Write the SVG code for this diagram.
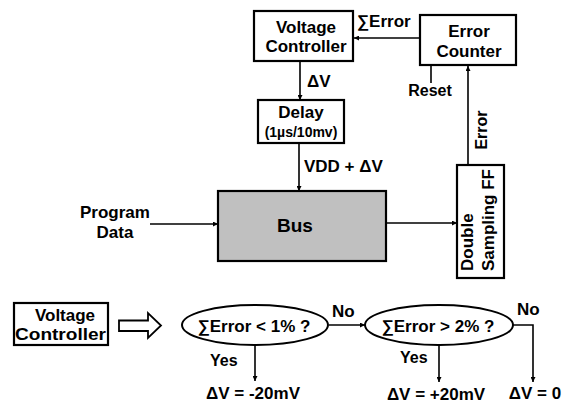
<svg xmlns="http://www.w3.org/2000/svg" width="569" height="407" viewBox="0 0 569 407">
<defs>
<marker id="ah" viewBox="0 0 10 10" refX="10" refY="5" markerWidth="5" markerHeight="5" markerUnits="userSpaceOnUse" orient="auto">
<path d="M0,0 L10,5 L0,10 Z" fill="#000"/>
</marker>
<style>
text{font-family:"Liberation Sans",Arial,sans-serif;font-weight:bold;fill:#000;font-size:17px}
.box{fill:#fff;stroke:#000;stroke-width:2.2}
.c{fill:none;stroke:#000;stroke-width:1.6}
.a{marker-end:url(#ah)}
.m{text-anchor:middle}
</style>
</defs>
<rect width="569" height="407" fill="#fff"/>
<g id="connectors">
<line class="c a" x1="420" y1="38" x2="354" y2="38"/>
<line class="c a" x1="300" y1="62" x2="300" y2="100"/>
<line class="c a" x1="299" y1="144" x2="299" y2="191"/>
<line class="c a" x1="150" y1="224" x2="218" y2="224"/>
<line class="c a" x1="387" y1="223" x2="457" y2="223"/>
<line class="c a" x1="468" y1="165" x2="468" y2="66"/>
<line class="c" x1="431" y1="66" x2="431" y2="83"/>
<line class="c a" x1="255" y1="345" x2="255" y2="381"/>
<line class="c a" x1="329" y1="325" x2="365" y2="325"/>
<line class="c a" x1="439" y1="345" x2="439" y2="382"/>
<polyline class="c a" points="513,325 533,325 533,382"/>
<text x="357" y="27">∑Error</text>
<text x="307" y="87">ΔV</text>
<text x="304" y="172">VDD + ΔV</text>
<text class="m" x="430" y="96" style="font-size:16px">Reset</text>
<text class="m" transform="translate(487,130) rotate(-90)" style="font-size:16px">Error</text>
<text x="332" y="317">No</text>
<text x="517" y="315">No</text>
<text x="210" y="366" style="font-size:16px">Yes</text>
<text x="400" y="363" style="font-size:16px">Yes</text>
</g>
<g id="voltage-controller">
<rect class="box" x="254" y="11" width="99" height="50"/>
<text class="m" x="306" y="33">Voltage</text>
<text class="m" x="306" y="52">Controller</text>
</g>
<g id="error-counter">
<rect class="box" x="420" y="15" width="96" height="50"/>
<text class="m" x="469" y="37">Error</text>
<text class="m" x="469" y="57">Counter</text>
</g>
<g id="delay">
<rect class="box" x="258" y="100" width="86" height="43"/>
<text class="m" x="301" y="118">Delay</text>
<text class="m" x="301" y="137" style="font-size:14px">(1µs/10mv)</text>
</g>
<g id="program-data">
<text class="m" x="115" y="218">Program</text>
<text class="m" x="115" y="238">Data</text>
</g>
<g id="bus">
<rect x="218" y="191" width="168" height="70" fill="#c0c0c0" stroke="#000" stroke-width="2.2"/>
<text class="m" x="295" y="232" style="font-size:19px">Bus</text>
</g>
<g id="double-sampling-ff">
<rect class="box" x="457" y="165" width="47" height="113"/>
<text transform="translate(473,271) rotate(-90)">Double</text>
<text transform="translate(494,271) rotate(-90)">Sampling FF</text>
</g>
<g id="voltage-controller-2">
<rect class="box" x="14" y="303" width="94" height="42"/>
<text class="m" x="65" y="321">Voltage</text>
<text x="15" y="340" textLength="91" lengthAdjust="spacingAndGlyphs">Controller</text>
</g>
<g id="hollow-arrow">
<path d="M119,320.5 L148,320.5 L148,313 L161,325.5 L148,338 L148,331 L119,331 Z" fill="#fff" stroke="#000" stroke-width="1.8"/>
</g>
<g id="decision-1">
<ellipse cx="255" cy="325" rx="73" ry="20" fill="#fff" stroke="#000" stroke-width="2"/>
<text class="m" x="254" y="332">∑Error &lt; 1% ?</text>
</g>
<g id="decision-2">
<ellipse cx="439" cy="325" rx="74" ry="20" fill="#fff" stroke="#000" stroke-width="2"/>
<text class="m" x="438" y="332">∑Error &gt; 2% ?</text>
</g>
<g id="result-1">
<text class="m" x="253" y="399">ΔV = -20mV</text>
</g>
<g id="result-2">
<text class="m" x="436" y="400">ΔV = +20mV</text>
</g>
<g id="result-3">
<text class="m" x="535" y="399">ΔV = 0</text>
</g>
</svg>
